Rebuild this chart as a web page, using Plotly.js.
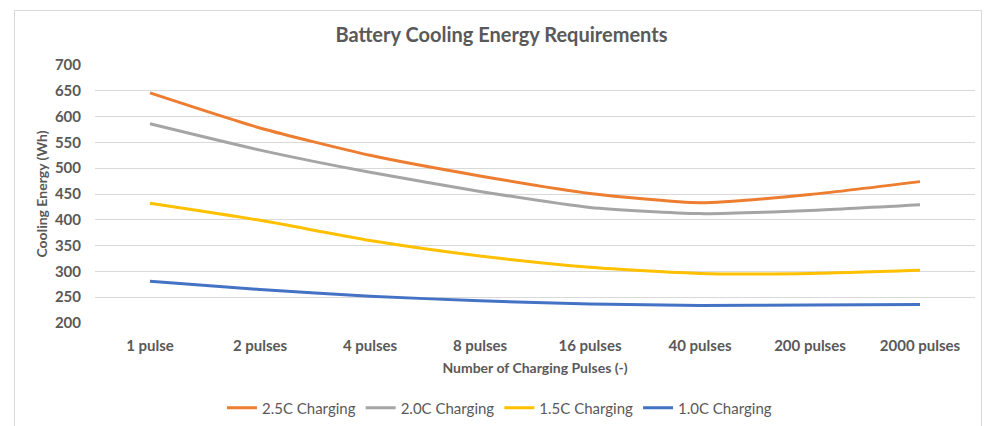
<!DOCTYPE html>
<html>
<head>
<meta charset="utf-8">
<script src="https://cdn.plot.ly/plotly-3.0.1.min.js"></script>
<style>
  html, body { margin: 0; padding: 0; background: #ffffff; }
  #wrap { position: relative; width: 989px; height: 426px; overflow: hidden; }
  #chart { position: absolute; left: 0; top: 0; width: 989px; height: 426px; }
  #frame { position: absolute; left: 14px; top: 10px; width: 966px; height: 430px; border: 1px solid #d9d9d9; pointer-events: none; }
</style>
</head>
<body>
<div id="wrap">
  <div id="chart"></div>
  <div id="frame"></div>
</div>
<script>
const categories = ["1 pulse", "2 pulses", "4 pulses", "8 pulses", "16 pulses", "40 pulses", "200 pulses", "2000 pulses"];
const seriesNames = ["2.5C Charging", "2.0C Charging", "1.5C Charging", "1.0C Charging"];
const charging25 = [646, 578, 525, 485, 451, 433, 449, 474];
const charging20 = [586, 535, 492, 455, 424, 412, 418, 429];
const charging15 = [432, 399, 360, 330, 308, 296, 296, 302];
const charging10 = [281, 265, 252, 243, 237, 234, 235, 236];
const colors = ["#ED7D31", "#A5A5A5", "#FFC000", "#4472C4"];
const yTicks = [200, 250, 300, 350, 400, 450, 500, 550, 600, 650, 700];

const values = [charging25, charging20, charging15, charging10];
const traces = values.map((v, i) => ({
  type: "scatter",
  mode: "lines",
  x: categories,
  y: v,
  name: seriesNames[i],
  line: { color: colors[i], width: 3, shape: "spline", smoothing: 0.6 },
  hoverinfo: "x+y+name"
}));

const fontFam = "Lato, 'Open Sans', 'Liberation Sans', sans-serif";
const layout = {
  width: 989,
  height: 426,
  margin: { l: 95, r: 14, t: 65, b: 103 },
  paper_bgcolor: "#ffffff",
  plot_bgcolor: "#ffffff",
  font: { family: fontFam, color: "#595959" },
  title: {
    text: "<b>Battery Cooling Energy Requirements</b>",
    font: { family: fontFam, size: 20, color: "#595959" },
    x: 0.507, xanchor: "center",
    y: 0.917, yanchor: "middle"
  },
  xaxis: {
    type: "category",
    categoryorder: "array",
    categoryarray: categories,
    range: [-0.5, 7.5],
    automargin: false,
    showgrid: false,
    showline: false,
    zeroline: false,
    ticks: "",
    ticklabelstandoff: 12,
    tickfont: { family: fontFam, size: 15, color: "#595959", weight: "bold" },
    title: { text: "<b>Number of Charging Pulses (-)</b>", font: { family: fontFam, size: 14, color: "#595959" }, standoff: 10 }
  },
  yaxis: {
    range: [200, 700],
    tickvals: yTicks,
    ticktext: yTicks.map(String),
    automargin: false,
    showgrid: true,
    gridcolor: "#d9d9d9",
    gridwidth: 1,
    zeroline: false,
    showline: false,
    ticks: "",
    ticklabelstandoff: 13,
    tickfont: { family: fontFam, size: 15, color: "#595959", weight: "bold" },
    title: { text: "<b>Cooling Energy (Wh)</b>", font: { family: fontFam, size: 14, color: "#595959" }, standoff: 3 }
  },
  showlegend: true,
  legend: {
    orientation: "h",
    xref: "container", yref: "container",
    x: 0.505, xanchor: "center",
    y: 0.042, yanchor: "middle",
    font: { family: fontFam, size: 15, color: "#595959" },
    itemwidth: 30,
    tracegroupgap: 0
  }
};

Plotly.newPlot("chart", traces, layout, { displayModeBar: false, responsive: false });
</script>
</body>
</html>
